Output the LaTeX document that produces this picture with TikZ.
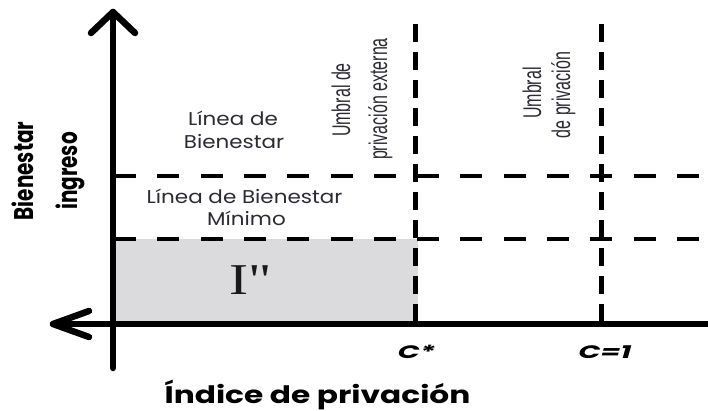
\documentclass[tikz,border=0pt]{standalone}
\usepackage{fontspec}
\usepackage{graphicx}
\setmainfont{Poppins}
\newfontfamily\serifI{Liberation Serif}
\newfontfamily\narrowf{Liberation Sans}
\definecolor{txtgray}{rgb}{0.17,0.17,0.2}
\definecolor{greyfill}{rgb}{0.86,0.86,0.87}
\begin{document}
\begin{tikzpicture}[x=1pt,y=-1pt,
  axisline/.style={line width=6.5pt, line cap=round, line join=round},
  hguide/.style={line width=4.5pt, dash pattern=on 22pt off 21.3pt},
  vguide/.style={line width=5pt, dash pattern=on 17.5pt off 10.5pt},
  lab/.style={inner sep=0pt, anchor=base, text=txtgray, font=\fontsize{18.5}{22}\selectfont},
  rlab/.style={inner sep=0pt, anchor=base, rotate=90, text=txtgray, font=\narrowf\fontsize{16}{19}\selectfont},
  blab/.style={inner sep=0pt, anchor=base, text=black, font=\bfseries\fontsize{20}{24}\selectfont},
  clab/.style={inner sep=0pt, anchor=base, text=black, font=\bfseries\itshape\fontsize{18}{21}\selectfont}
]
\useasboundingbox (0,0) rectangle (708,410);
\fill[white] (0,0) rectangle (708,410);

% shaded region
\fill[greyfill] (116,239) rectangle (418,324);

% guide lines
\coordinate (h1s) at (114,176); \coordinate (h1e) at (712,176);
\coordinate (h2s) at (114,239); \coordinate (h2e) at (712,239);
\coordinate (v1s) at (415,24);  \coordinate (v1e) at (415,324);
\coordinate (v2s) at (601,24);  \coordinate (v2e) at (601,324);
\draw[hguide] (h1s) -- (h1e);
\draw[hguide] (h2s) -- (h2e);
\draw[vguide] (v1s) -- (v1e);
\draw[vguide] (v2s) -- (v2e);

% axes
\coordinate (ytop) at (113,12);
\coordinate (ybot) at (113,368);
\coordinate (xleft) at (53,324);
\coordinate (xright) at (715,324);
\draw[axisline] (ybot) -- (ytop);
\draw[axisline] (91,33) -- (ytop) -- (135,33);
\draw[axisline, line cap=butt] (xright) -- (xleft);
\draw[axisline] (89,311) -- (xleft) -- (89,337);

% labels in the plane
\node[lab] (lb1) at (233,125) {\scalebox{1.16}[1]{Línea de}};
\node[lab] (lb2) at (234,148) {\scalebox{1.16}[1]{Bienestar}};
\node[lab] (lm1) at (244.5,203) {\scalebox{1.16}[1]{Línea de Bienestar}};
\node[lab] (lm2) at (246.5,225) {\scalebox{1.16}[1]{Mínimo}};
\node[inner sep=0pt, anchor=base, text=black!90, font=\serifI\fontsize{44}{50}\selectfont] (ipp) at (251,294) {\scalebox{1.3}[1]{I"}};

% threshold labels
\node[rlab] (u1a) at (350,100) {\scalebox{1}[1.6]{Umbral de}};
\node[rlab] (u1b) at (387,99) {\scalebox{1}[1.6]{privación externa}};
\node[rlab] (u2a) at (541,93) {\scalebox{1}[1.6]{Umbral}};
\node[rlab] (u2b) at (570,95) {\scalebox{1}[1.6]{de privación}};

% axis labels
\node[blab, rotate=90] (yl1) at (33,171) {\scalebox{1}[1.35]{Bienestar}};
\node[blab, rotate=90] (yl2) at (77,171) {\scalebox{1}[1.35]{ingreso}};
\node[blab, font=\bfseries\fontsize{24}{28}\selectfont] (xl) at (317.5,403) {\scalebox{1.3}[1]{Índice de privación}};
\node[clab] (cstar) at (416.5,358) {\scalebox{1.6}[1]{C*}};
\node[clab] (cone) at (605,358) {\scalebox{1.6}[1]{C=1}};
\end{tikzpicture}
\end{document}
